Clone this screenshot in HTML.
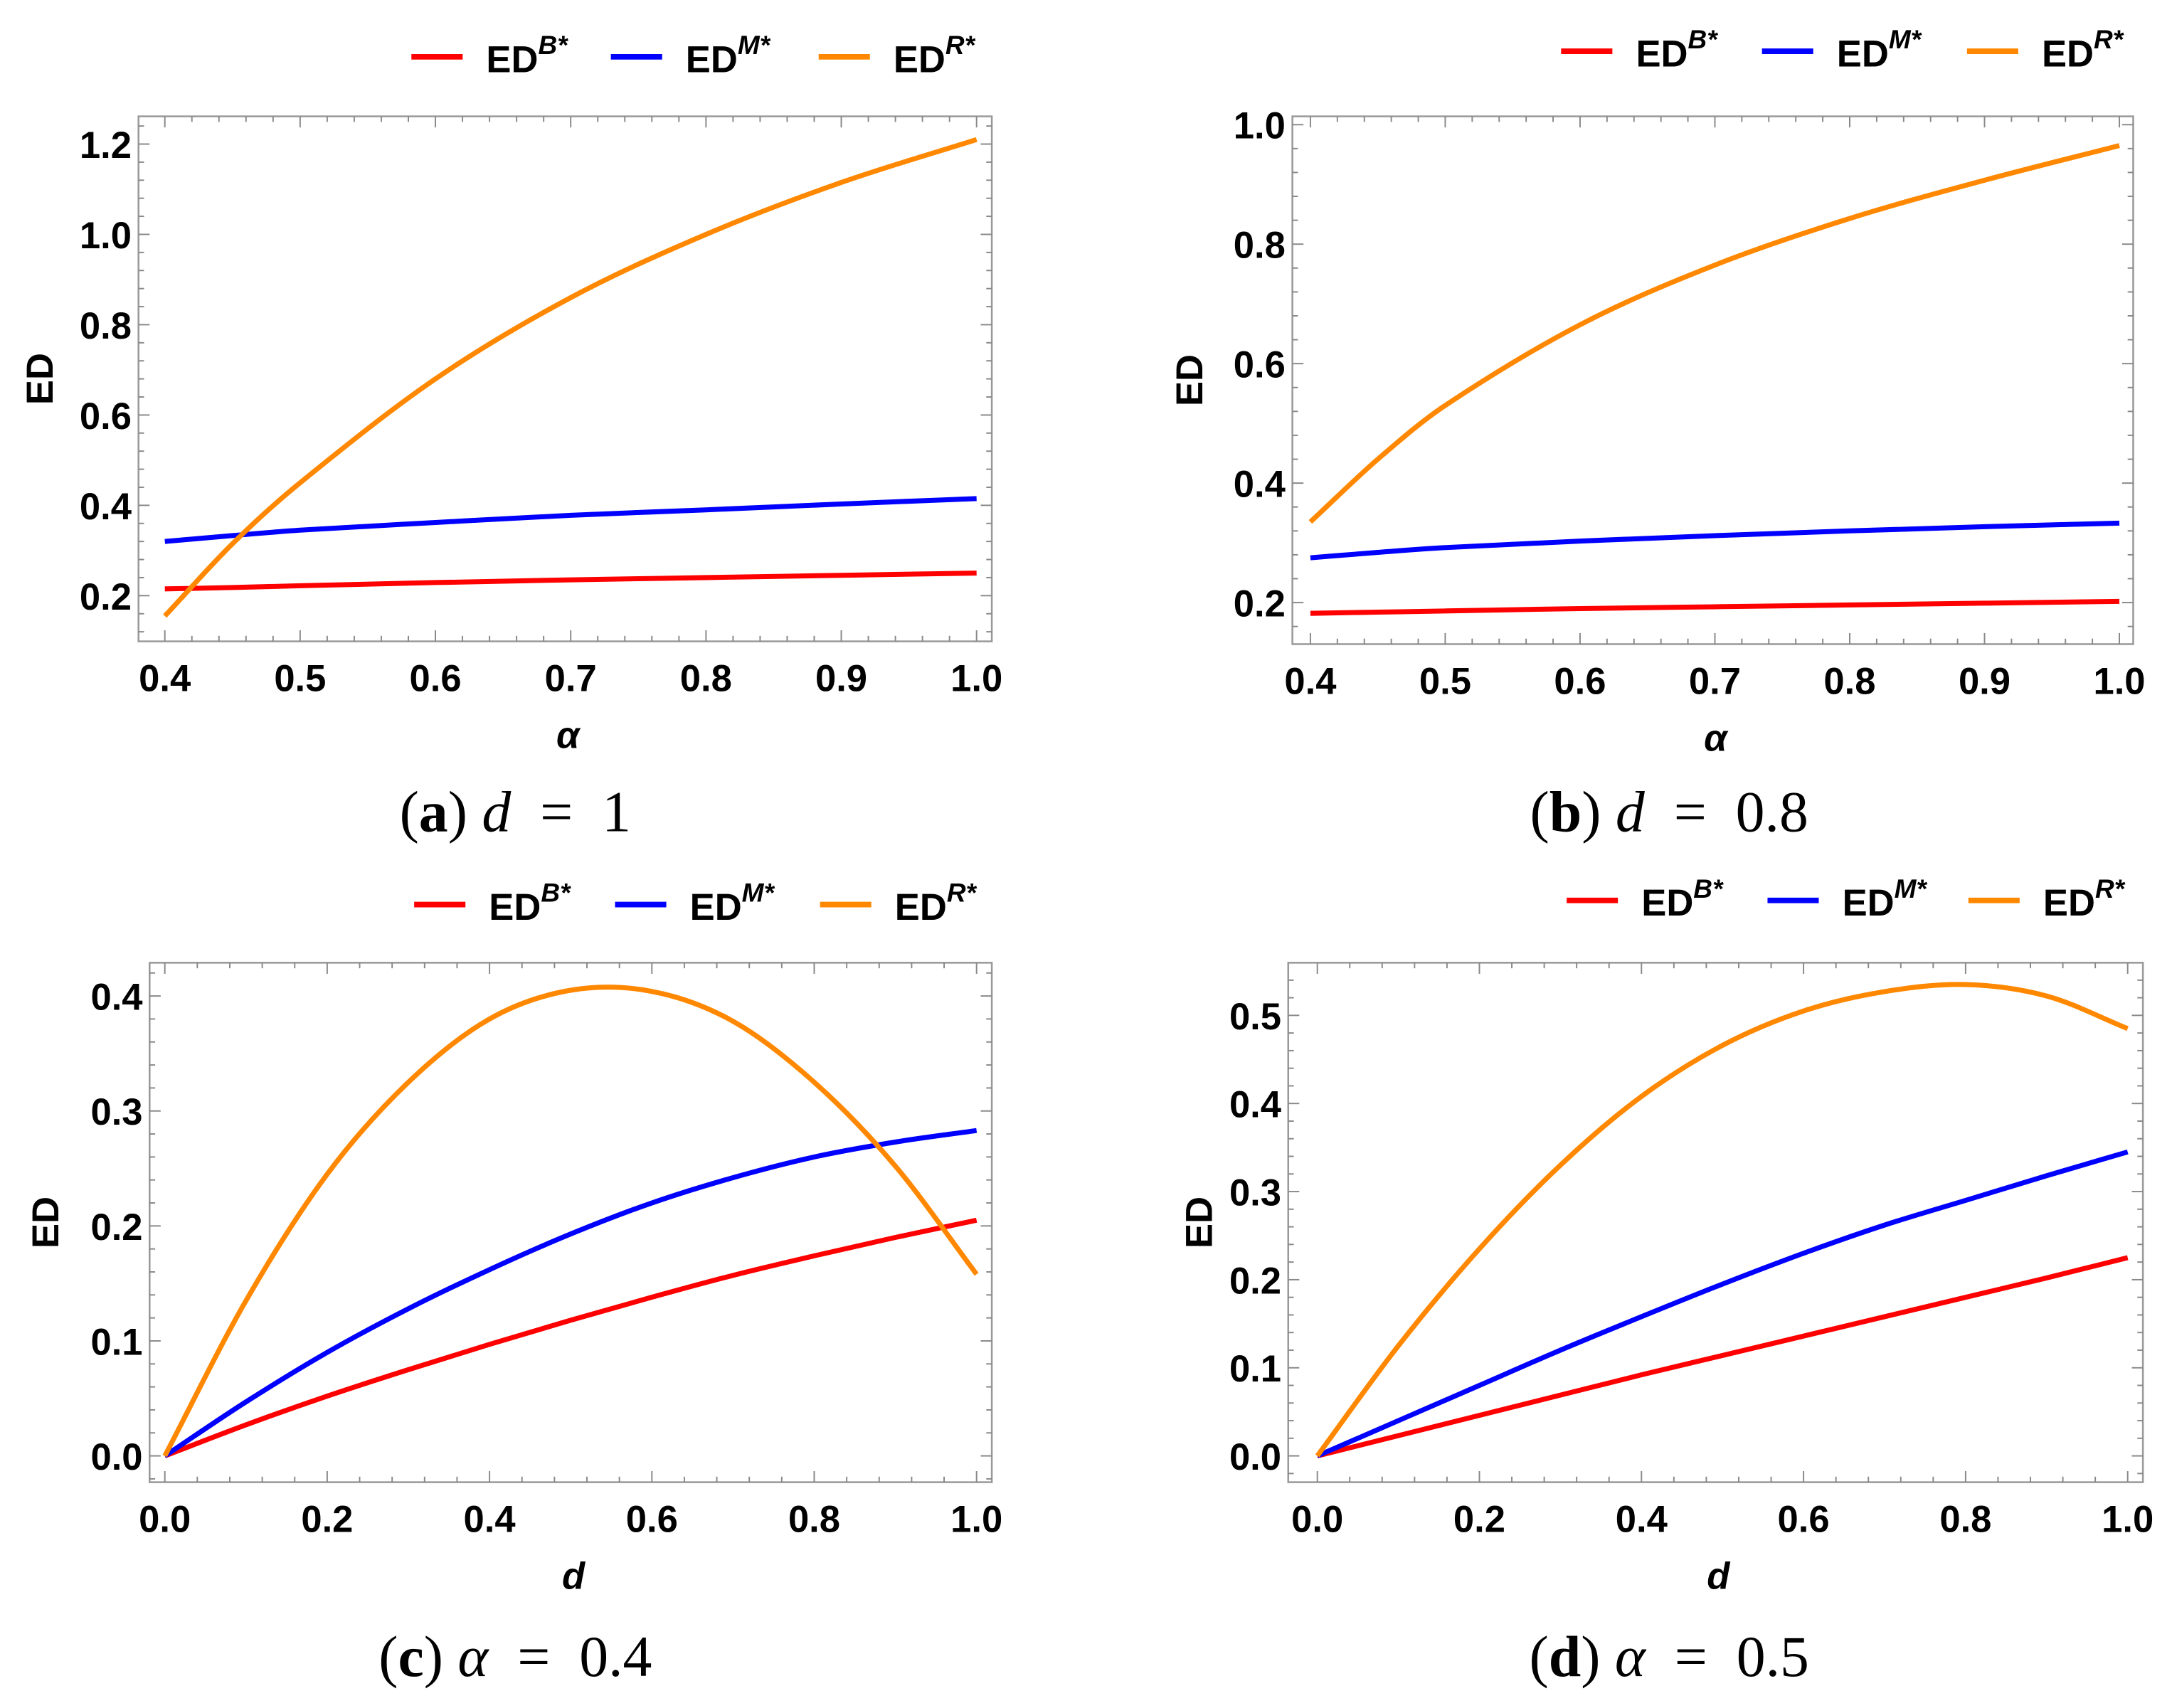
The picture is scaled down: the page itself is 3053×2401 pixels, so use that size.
<!DOCTYPE html>
<html><head><meta charset="utf-8"><style>
html,body{margin:0;padding:0;background:#fff;}
svg{display:block;}
.tk{font-family:"Liberation Sans",sans-serif;font-weight:bold;font-size:27px;fill:#000;}
.lg{font-family:"Liberation Sans",sans-serif;font-weight:bold;font-size:27px;fill:#000;}
.cap{font-family:"Liberation Serif",serif;font-size:42px;fill:#000;}
</style></head><body>
<svg id="fig" width="3053" height="2401" viewBox="0 0 1568 1233" preserveAspectRatio="none" xmlns="http://www.w3.org/2000/svg"></svg>
<script>
// ---- data ----
const alphaX = [0.4,0.45,0.5,0.6,0.7,0.8,0.9,1.0];
const dX = [0,0.1,0.2,0.3,0.4,0.5,0.6,0.7,0.8,0.9,1.0];
const aB = [0.215,0.218,0.222,0.229,0.235,0.240,0.245,0.250];
const aM = [0.320,0.333,0.345,0.362,0.378,0.390,0.403,0.415];
const aR = [0.155,0.315,0.450,0.680,0.860,1.000,1.115,1.210];
const bB = [0.182,0.184,0.186,0.190,0.193,0.196,0.199,0.202];
const bM = [0.275,0.284,0.292,0.303,0.312,0.320,0.327,0.333];
const bR = [0.335,0.440,0.530,0.665,0.765,0.843,0.907,0.965];
const cB = [0,0.027,0.052,0.075,0.097,0.118,0.138,0.157,0.174,0.190,0.205];
const cM = [0,0.047,0.090,0.128,0.162,0.193,0.220,0.242,0.260,0.273,0.283];
const cR = [0,0.135,0.245,0.325,0.380,0.405,0.404,0.378,0.325,0.252,0.158];
const dB = [0,0.023,0.046,0.069,0.092,0.114,0.136,0.158,0.180,0.202,0.225];
const dM = [0,0.040,0.080,0.120,0.158,0.195,0.230,0.262,0.290,0.318,0.345];
const dR = [0,0.125,0.235,0.330,0.408,0.466,0.505,0.527,0.535,0.522,0.485];
const xTicksA = [0.4,0.5,0.6,0.7,0.8,0.9,1.0];
const xTicksD = [0,0.2,0.4,0.6,0.8,1.0];
const yTicksA = [0.2,0.4,0.6,0.8,1.0,1.2];
const yTicksB = [0.2,0.4,0.6,0.8,1.0];
const yTicksC = [0,0.1,0.2,0.3,0.4];
const yTicksD = [0,0.1,0.2,0.3,0.4,0.5];
const colors = ['#ff0000','#0000ff','#ff8800'];
const sups = ['B*','M*','R*'];

const svg = document.getElementById('fig');
const NS = 'http://www.w3.org/2000/svg';
function mk(tag, attrs, parent){const e=document.createElementNS(NS,tag);for(const k in attrs)e.setAttribute(k,attrs[k]);(parent||svg).appendChild(e);return e;}

function smooth(pts){
  let d='M'+pts[0][0]+','+pts[0][1];
  for(let i=0;i<pts.length-1;i++){
    const p0=pts[Math.max(0,i-1)],p1=pts[i],p2=pts[i+1],p3=pts[Math.min(pts.length-1,i+2)];
    const h=p2[0]-p1[0];
    const s1=(p2[1]-p0[1])/(p2[0]-p0[0]||1), s2=(p3[1]-p1[1])/(p3[0]-p1[0]||1);
    const c1=[p1[0]+h/3,p1[1]+s1*h/3];
    const c2=[p2[0]-h/3,p2[1]-s2*h/3];
    d+=' C'+c1[0]+','+c1[1]+' '+c2[0]+','+c2[1]+' '+p2[0]+','+p2[1];
  }
  return d;
}

function panel(cfg){
  const g=mk('g',{});
  
  
  const sx=v=>cfg.px0+(v-cfg.x0)/(cfg.x1-cfg.x0)*(cfg.px1-cfg.px0);
  const sy=v=>cfg.py0+(v-cfg.y0)/(cfg.y1-cfg.y0)*(cfg.py1-cfg.py0);
  const f=cfg.frame;
  const fr=mk('rect',{x:f[0],y:f[1],width:f[2]-f[0],height:f[3]-f[1],fill:'none',stroke:'#999','stroke-width':1.3},g);
  
  
  const xs=cfg.xTicks, xstep=xs[1]-xs[0];
  for(let v=xs[0]-xstep;v<=xs[xs.length-1]+1e-9;v+=xstep/5){
    const x=sx(v); if(x<f[0]||x>f[2])continue;
    const major=Math.abs(((v-xs[0])/xstep)-Math.round((v-xs[0])/xstep))<1e-6;
    const L=major?8:4;
    mk('line',{x1:x,x2:x,y1:f[3],y2:f[3]-L,stroke:'#888','stroke-width':1},g);
    mk('line',{x1:x,x2:x,y1:f[1],y2:f[1]+L,stroke:'#888','stroke-width':1},g);
  }
  xs.forEach(v=>{const t=mk('text',{x:sx(v),y:f[3]+36,'text-anchor':'middle',class:'tk'},g);t.textContent=v.toFixed(1);
    
    });
  const ys=cfg.yTicks, ystep=ys[1]-ys[0];
  for(let v=ys[0]-ystep;v<=ys[ys.length-1]+ystep;v+=ystep/5){
    const y=sy(v); if(y<f[1]||y>f[3])continue;
    const major=Math.abs(((v-ys[0])/ystep)-Math.round((v-ys[0])/ystep))<1e-6;
    const L=major?8:4;
    mk('line',{x1:f[0],x2:f[0]+L,y1:y,y2:y,stroke:'#888','stroke-width':1},g);
    mk('line',{x1:f[2],x2:f[2]-L,y1:y,y2:y,stroke:'#888','stroke-width':1},g);
  }
  ys.forEach(v=>{const t=mk('text',{x:f[0]-5,y:sy(v)+10,'text-anchor':'end',class:'tk'},g);t.textContent=v.toFixed(1);
    
    });
  const yt=mk('text',{x:0,y:0,'text-anchor':'middle',class:'tk',transform:'translate('+(cfg.ytx)+','+((f[1]+f[3])/2)+') rotate(-90)'},g);
  yt.textContent='ED';
  
  
  const xt=mk('text',{x:(f[0]+f[2])/2+2,y:f[3]+77,'text-anchor':'middle',class:'tk','font-style':'italic'},g);
  xt.textContent=cfg.xTitle;
  
  
  cfg.series.forEach((s,i)=>{
    const pts=cfg.xs.map((v,j)=>[sx(v),sy(s[j])]);
    const p=mk('path',{d:smooth(pts),fill:'none',stroke:colors[i],'stroke-width':3.6},g);
    
    
  });
  cfg.legend.forEach((lx,i)=>{
    const lg=mk('g',{},g);
    
    
    mk('line',{x1:lx,x2:lx+37,y1:cfg.ly,y2:cfg.ly,stroke:colors[i],'stroke-width':4},lg);
    const t=mk('text',{x:lx+54,y:cfg.ly+11,class:'lg'},lg);
    t.textContent='ED';
    const s=mk('tspan',{dy:-13,'font-size':'19px','font-style':'italic'},t);
    s.textContent=sups[i];
  });
  const c=mk('text',{x:cfg.capx,y:cfg.capy,'text-anchor':'middle',class:'cap'},g);
  
  
  const t1=mk('tspan',{},c);t1.textContent='(';
  const t2=mk('tspan',{'font-weight':'bold'},c);t2.textContent=cfg.capL;
  const t3=mk('tspan',{},c);t3.textContent=') ';
  const t4=mk('tspan',{'font-style':'italic'},c);t4.textContent=cfg.capV;
  const t5=mk('tspan',{},c);t5.textContent='\u2002=\u2002'+cfg.capN;
}

panel({name:'panel-a',frame:[100,84,716,463],x0:0.4,x1:1.0,px0:119,px1:705,y0:0.2,y1:1.2,py0:430,py1:104,
  xTicks:xTicksA,yTicks:yTicksA,xs:alphaX,series:[aB,aM,aR],xTitle:'α',ytx:38,
  legend:[297,441,591],ly:41,capx:372,capy:600,capL:'a',capV:'d',capN:'1'});
panel({name:'panel-b',frame:[933,84,1540,465],x0:0.4,x1:1.0,px0:946,px1:1530,y0:0.2,y1:1.0,py0:435,py1:90,
  xTicks:xTicksA,yTicks:yTicksB,xs:alphaX,series:[bB,bM,bR],xTitle:'α',ytx:868,
  legend:[1127,1272,1420],ly:37,capx:1205,capy:600,capL:'b',capV:'d',capN:'0.8'});
panel({name:'panel-c',frame:[108,695,716,1070],x0:0,x1:1,px0:119,px1:705,y0:0,y1:0.4,py0:1051,py1:719,
  xTicks:xTicksD,yTicks:yTicksC,xs:dX,series:[cB,cM,cR],xTitle:'d',ytx:42,
  legend:[299,444,592],ly:653,capx:372,capy:1210,capL:'c',capV:'α',capN:'0.4'});
panel({name:'panel-d',frame:[930,695,1547,1070],x0:0,x1:1,px0:951,px1:1536,y0:0,y1:0.5,py0:1051,py1:733,
  xTicks:xTicksD,yTicks:yTicksD,xs:dX,series:[dB,dM,dR],xTitle:'d',ytx:875,
  legend:[1131,1276,1421],ly:650,capx:1205,capy:1210,capL:'d',capV:'α',capN:'0.5'});
</script>
</body></html>
